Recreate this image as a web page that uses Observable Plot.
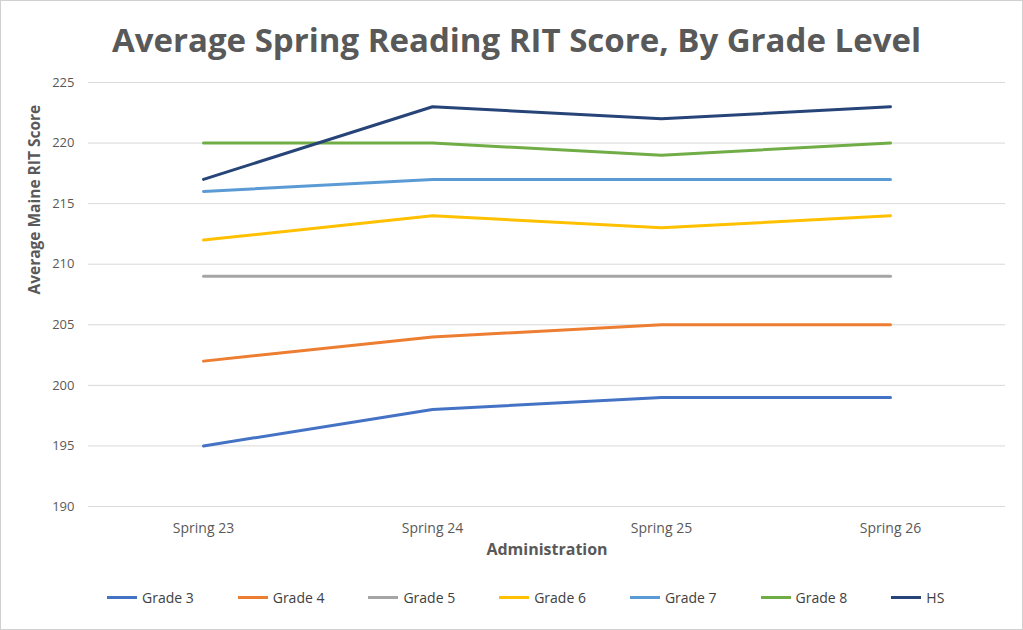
<!DOCTYPE html>
<html><head><meta charset="utf-8">
<script src="https://cdn.jsdelivr.net/npm/d3@7"></script>
<script src="https://cdn.jsdelivr.net/npm/@observablehq/plot@0.6"></script>
<style>
body{margin:0;font-family:"Open Sans",sans-serif;}
#wrap{width:1021px;height:628px;border:1px solid #d0d0d0;position:relative;background:#fff;overflow:hidden}
#title{height:75px;line-height:78px;text-align:center;font-size:33px;font-weight:bold;color:#595959;padding-left:10px}
#legend{display:flex;justify-content:flex-start;padding-left:106px;margin-top:22px;font-size:14px;color:#404040}
.li{display:flex;align-items:center;width:133.5px}
.sw{width:30px;height:3px;margin-right:5px}
</style></head><body>
<div id="wrap"><div id="title">Average Spring Reading RIT Score, By Grade Level</div><div id="chart"></div><div id="legend"></div></div>
<script>
const admins = ["Spring 23","Spring 24","Spring 25","Spring 26"];
const seriesNames = ["Grade 3","Grade 4","Grade 5","Grade 6","Grade 7","Grade 8","HS"];
const grade3 = [195,198,199,199];
const grade4 = [202,204,205,205];
const grade5 = [209,209,209,209];
const grade6 = [212,214,213,214];
const grade7 = [216,217,217,217];
const grade8 = [220,220,219,220];
const hs = [217,223,222,223];
const colors = ["#4472C4","#ED7D31","#A5A5A5","#FFC000","#5B9BD5","#70AD47","#264478"];
const yTicks = [190,195,200,205,210,215,220,225];
const all = [grade3,grade4,grade5,grade6,grade7,grade8,hs];
const data = [];
all.forEach((vals,i)=>vals.forEach((v,j)=>data.push({series:seriesNames[i],admin:admins[j],value:v})));
const plot = Plot.plot({
  width:1021,height:490,marginTop:6,marginBottom:60,marginLeft:87,marginRight:17,
  style:{fontFamily:"Open Sans, sans-serif",fontSize:"13px",color:"#595959",overflow:"visible"},
  x:{type:"point",domain:admins,padding:0.5,label:null},
  y:{domain:[190,225],ticks:yTicks,label:null},
  color:{domain:seriesNames,range:colors},
  marks:[
    Plot.gridY(yTicks,{stroke:"#d9d9d9",strokeOpacity:1}),
    Plot.axisX({tickSize:0,tickPadding:17,fontSize:14,label:null}),
    Plot.axisY({ticks:yTicks,tickSize:0,tickPadding:14,fontSize:13,label:null}),
    Plot.line(data,{x:"admin",y:"value",z:"series",stroke:"series",strokeWidth:3,curve:"linear"}),
    Plot.text(["Administration"],{frameAnchor:"bottom",dy:48,fontSize:16,fontWeight:"bold",fill:"#595959"}),
    Plot.text(["Average Maine RIT Score"],{frameAnchor:"left",dx:-53,rotate:-90,fontSize:15.5,fontWeight:"bold",fill:"#595959"})
  ]
});
document.getElementById("chart").appendChild(plot);
const lg=document.getElementById("legend");
seriesNames.forEach((s,i)=>{const d=document.createElement("div");d.className="li";d.innerHTML=`<div class="sw" style="background:${colors[i]}"></div>${s}`;lg.appendChild(d);});
</script></body></html>
